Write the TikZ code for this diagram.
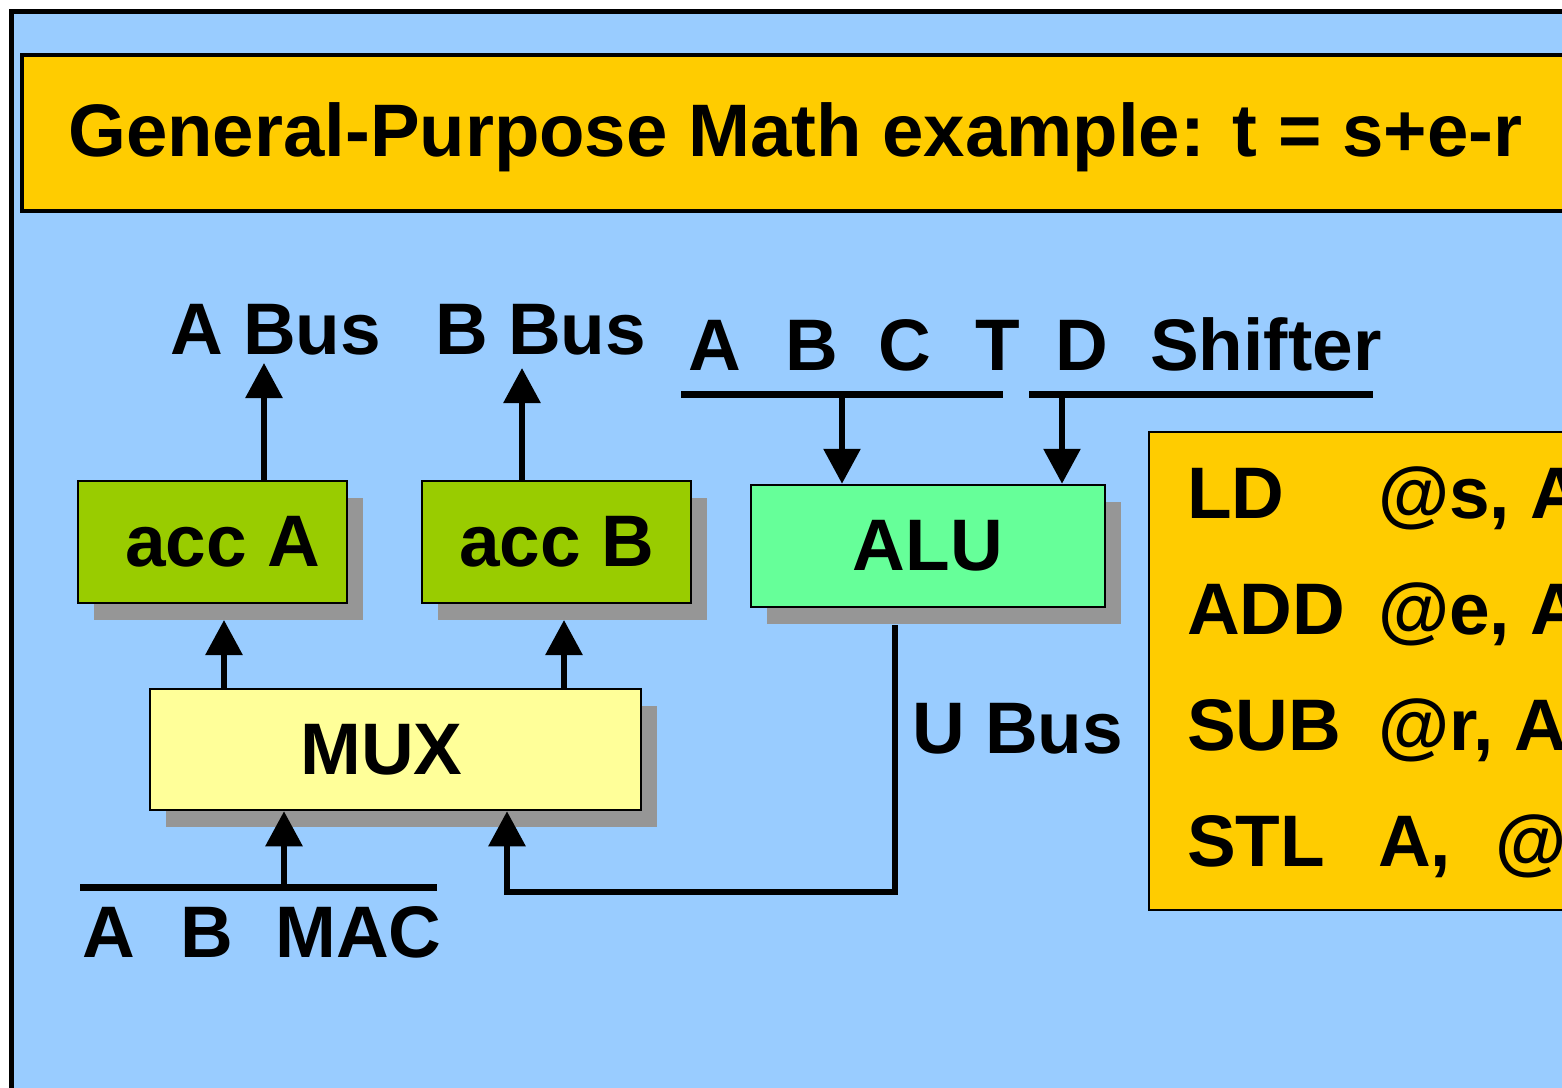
\documentclass[tikz,border=0pt]{standalone}
\usepackage{fontspec}
\setmainfont{Liberation Sans}
\usetikzlibrary{arrows.meta,shadows}
\definecolor{bgblue}{HTML}{99CCFF}
\definecolor{gold}{HTML}{FFCC00}
\definecolor{accgreen}{HTML}{99CC00}
\definecolor{alugreen}{HTML}{66FF99}
\definecolor{muxyellow}{HTML}{FFFF99}
\definecolor{shadowgray}{HTML}{969696}
\tikzset{
  big/.style={font=\fontsize{73}{80}\selectfont\bfseries, inner sep=0pt},
  lbl/.style={big, anchor=base west},
  unitbox/.style={draw=black, line width=2.5pt, inner sep=0pt, big,
    drop shadow={shadow xshift=16pt, shadow yshift=-17pt, fill=shadowgray, opacity=1}},
  busline/.style={line width=7pt},
  wire/.style={line width=6pt},
  arr/.style={wire, -{Triangle[width=36pt,length=35pt]}},
}
\begin{document}
\begin{tikzpicture}[x=1pt,y=-1pt]
\useasboundingbox (0,0) rectangle (1562,1087);
\clip (0,0) rectangle (1562,1087);
\fill[white] (0,0) rectangle (1562,1087);
% outer frame
\draw[line width=5pt, fill=bgblue] (11,11) rectangle (1620,1140);
% title
\draw[line width=4pt, fill=gold] (22,55) rectangle (1620,211);
\node[anchor=base west, inner sep=0pt, font=\fontsize{74.4}{80}\selectfont\bfseries] (title) at (68,156) {General-Purpose Math example: t = s+e-r};

% units
\node[unitbox, fill=accgreen, minimum width=269pt, minimum height=122pt] (accA) at (212.5,542) {\hspace*{20pt}acc A};
\node[unitbox, fill=accgreen, minimum width=269pt, minimum height=122pt] (accB) at (556.5,542) {acc B};
\node[unitbox, fill=alugreen, minimum width=354pt, minimum height=122pt] (ALU) at (928,546) {ALU};
\node[unitbox, fill=muxyellow, minimum width=491pt, minimum height=121pt] (MUX) at (395.5,749.5) {MUX\hspace*{28pt}};

% instruction box
\draw[line width=2pt, fill=gold] (1149,432) rectangle (1620,910);

% top labels
\node[lbl] (abus) at (170,354) {A Bus};
\node[lbl] (bbus) at (435,354) {B Bus};
\node[lbl] (lA) at (688,370) {A};
\node[lbl] (lB) at (785,370) {B};
\node[lbl] (lC) at (878,370) {C};
\node[lbl] (lT) at (975,370) {T};
\node[lbl] (lD) at (1055,370) {D};
\node[lbl] (lS) at (1150,370) {Shifter};
\node[lbl] (ubus) at (912,753) {U Bus};
\node[lbl] (mA) at (82,957) {A};
\node[lbl] (mB) at (180,957) {B};
\node[lbl] (mMAC) at (275,957) {MAC};

% instruction text
\node[lbl] (i1a) at (1187,518) {LD};
\node[lbl] (i1b) at (1378,518) {@s, A};
\node[lbl] (i2a) at (1187,634) {ADD};
\node[lbl] (i2b) at (1378,634) {@e, A};
\node[lbl] (i3a) at (1187,750) {SUB};
\node[lbl] (i3b) at (1378,750) {@r, A};
\node[lbl] (i4a) at (1187,866) {STL};
\node[lbl] (i4b) at (1378,866) {A,};
\node[lbl] (i4c) at (1495,866) {@t};

% bus lines
\coordinate (abctL) at (681,394);
\coordinate (abctR) at (1003,394);
\coordinate (dsL) at (1029,394);
\coordinate (dsR) at (1373,394);
\draw[busline] (abctL) -- (abctR);
\draw[busline] (dsL) -- (dsR);
\coordinate (aluIn1) at (842,394);
\coordinate (aluIn2) at (1062,394);
\draw[arr] (aluIn1) -- (ALU.north -| aluIn1);
\draw[arr] (aluIn2) -- (ALU.north -| aluIn2);

% A/B bus outputs
\coordinate (aTip) at (264,363);
\coordinate (bTip) at (522,368);
\draw[arr] (accA.north -| aTip) -- (aTip);
\draw[arr] (accB.north -| bTip) -- (bTip);

% MUX to accumulators
\coordinate (m2a) at (224,620);
\coordinate (m2b) at (564,620);
\draw[arr] (MUX.north -| m2a) -- (m2a);
\draw[arr] (MUX.north -| m2b) -- (m2b);

% A B MAC input
\coordinate (macL) at (80,887);
\coordinate (macR) at (437,887);
\coordinate (macIn) at (284,887);
\draw[busline] (macL) -- (macR);
\draw[arr] (macIn) -- (MUX.south -| macIn);

% U Bus feedback
\coordinate (uTop) at (895,625);
\coordinate (uCorner) at (895,892);
\coordinate (uLeft) at (507,892);
\draw[arr, line join=miter] (uTop) -- (uCorner) -- (uLeft) -- (MUX.south -| uLeft);
\end{tikzpicture}
\end{document}
